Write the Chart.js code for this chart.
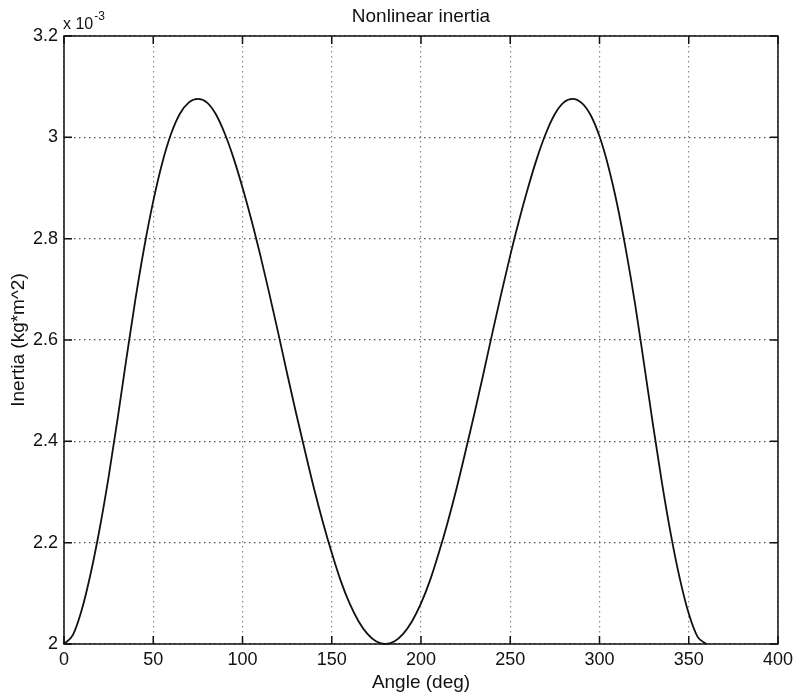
<!DOCTYPE html>
<html>
<head>
<meta charset="utf-8">
<script src="https://cdn.jsdelivr.net/npm/chart.js@4/dist/chart.umd.min.js"></script>
<style>
  html, body { margin: 0; padding: 0; background: #fff; }
  #wrap { width: 798px; height: 696px; }
</style>
</head>
<body>
<div id="wrap"><canvas id="c" width="798" height="696"></canvas></div>
<script>
// Crank angle in degrees
const angleDeg = [
  0, 5, 10, 15, 20, 25, 30, 35, 40, 45, 50, 55, 60, 65, 70, 75, 80, 85, 90,
  95, 100, 105, 110, 115, 120, 125, 130, 135, 140, 145, 150, 155, 160, 165, 170, 175, 180,
  185, 190, 195, 200, 205, 210, 215, 220, 225, 230, 235, 240, 245, 250, 255, 260, 265, 270,
  275, 280, 285, 290, 295, 300, 305, 310, 315, 320, 325, 330, 335, 340, 345, 350, 355, 360
];
// Effective inertia, in units of 1e-3 kg*m^2
const inertia = [
  2.000, 2.018, 2.068, 2.140, 2.228, 2.330, 2.444, 2.564, 2.680, 2.784, 2.874, 2.949, 3.007, 3.047, 3.069, 3.076, 3.069, 3.046, 3.008,
  2.959, 2.901, 2.837, 2.767, 2.692, 2.614, 2.534, 2.456, 2.381, 2.308, 2.241, 2.180, 2.125, 2.080, 2.045, 2.020, 2.005, 2.000,
  2.005, 2.020, 2.045, 2.080, 2.125, 2.180, 2.241, 2.308, 2.381, 2.456, 2.534, 2.614, 2.692, 2.767, 2.837, 2.901, 2.959, 3.008,
  3.046, 3.069, 3.076, 3.068, 3.044, 3.002, 2.942, 2.866, 2.774, 2.670, 2.552, 2.432, 2.318, 2.216, 2.129, 2.060, 2.014, 2.000
];
const xTickValues = [0, 50, 100, 150, 200, 250, 300, 350, 400];
const yTickValues = [2, 2.2, 2.4, 2.6, 2.8, 3, 3.2];

const titleText = 'Nonlinear inertia';
const xLabel = 'Angle (deg)';
const yLabel = 'Inertia (kg*m^2)';
const expBase = 'x 10';
const expPower = '-3';

const FONT = '"Liberation Sans", Arial, Helvetica, sans-serif';

// Box around the axes, inward tick marks on all four sides, title and exponent label
const framePlugin = {
  id: 'frame',
  afterDraw(chart) {
    const { ctx, chartArea: a, scales: { x, y } } = chart;
    const tick = 8;
    ctx.save();
    ctx.strokeStyle = '#111';
    ctx.lineWidth = 1.5;
    ctx.strokeRect(a.left, a.top, a.right - a.left, a.bottom - a.top);
    ctx.beginPath();
    xTickValues.forEach(v => {
      const px = x.getPixelForValue(v);
      ctx.moveTo(px, a.bottom); ctx.lineTo(px, a.bottom - tick);
      ctx.moveTo(px, a.top); ctx.lineTo(px, a.top + tick);
    });
    yTickValues.forEach(v => {
      const py = y.getPixelForValue(v);
      ctx.moveTo(a.left, py); ctx.lineTo(a.left + tick, py);
      ctx.moveTo(a.right, py); ctx.lineTo(a.right - tick, py);
    });
    ctx.stroke();

    ctx.fillStyle = '#111';
    ctx.textBaseline = 'alphabetic';
    ctx.textAlign = 'center';
    ctx.font = '19px ' + FONT;
    ctx.fillText(titleText, (a.left + a.right) / 2, a.top - 14);

    ctx.textAlign = 'left';
    ctx.font = '16px ' + FONT;
    ctx.fillText(expBase, a.left - 1, a.top - 7);
    const w = ctx.measureText(expBase).width;
    ctx.font = '12px ' + FONT;
    ctx.fillText(expPower, a.left - 1 + w + 1, a.top - 16);
    ctx.restore();
  }
};

new Chart(document.getElementById('c'), {
  type: 'line',
  data: {
    datasets: [{
      data: angleDeg.map((a, i) => ({ x: a, y: inertia[i] })),
      borderColor: '#111',
      borderWidth: 1.8,
      pointRadius: 0,
      fill: false,
      cubicInterpolationMode: 'monotone',
      clip: 4
    }]
  },
  options: {
    responsive: false,
    animation: false,
    devicePixelRatio: 1,
    layout: { padding: { left: 0, right: 18, top: 36, bottom: 0 } },
    plugins: { legend: { display: false }, tooltip: { enabled: false }, title: { display: false } },
    scales: {
      x: {
        type: 'linear',
        min: 0, max: 400,
        afterFit(s) { s.height = 52; },
        afterBuildTicks(s) { s.ticks = xTickValues.map(v => ({ value: v })); },
        ticks: { color: '#111', padding: 5, font: { family: FONT, size: 18 },
                 callback: v => String(Math.round(v)) },
        grid: { color: '#8a8a8a', lineWidth: 1.2, drawTicks: false },
        border: { display: false, dash: [1.5, 3.5] },
        title: { display: true, text: xLabel, color: '#111', font: { family: FONT, size: 19 }, padding: { top: 0, bottom: 2 } }
      },
      y: {
        type: 'linear',
        min: 2, max: 3.2,
        afterFit(s) { s.width = 64; },
        afterBuildTicks(s) { s.ticks = yTickValues.map(v => ({ value: v })); },
        ticks: { color: '#111', padding: 6, font: { family: FONT, size: 18 },
                 callback: v => String(Math.round(v * 10) / 10) },
        grid: { color: '#555', lineWidth: 1.2, drawTicks: false },
        border: { display: false, dash: [1.5, 3.5] },
        title: { display: true, text: yLabel, color: '#111', font: { family: FONT, size: 19 }, padding: { top: 7, bottom: 0 } }
      }
    }
  },
  plugins: [framePlugin]
});
</script>
</body>
</html>
